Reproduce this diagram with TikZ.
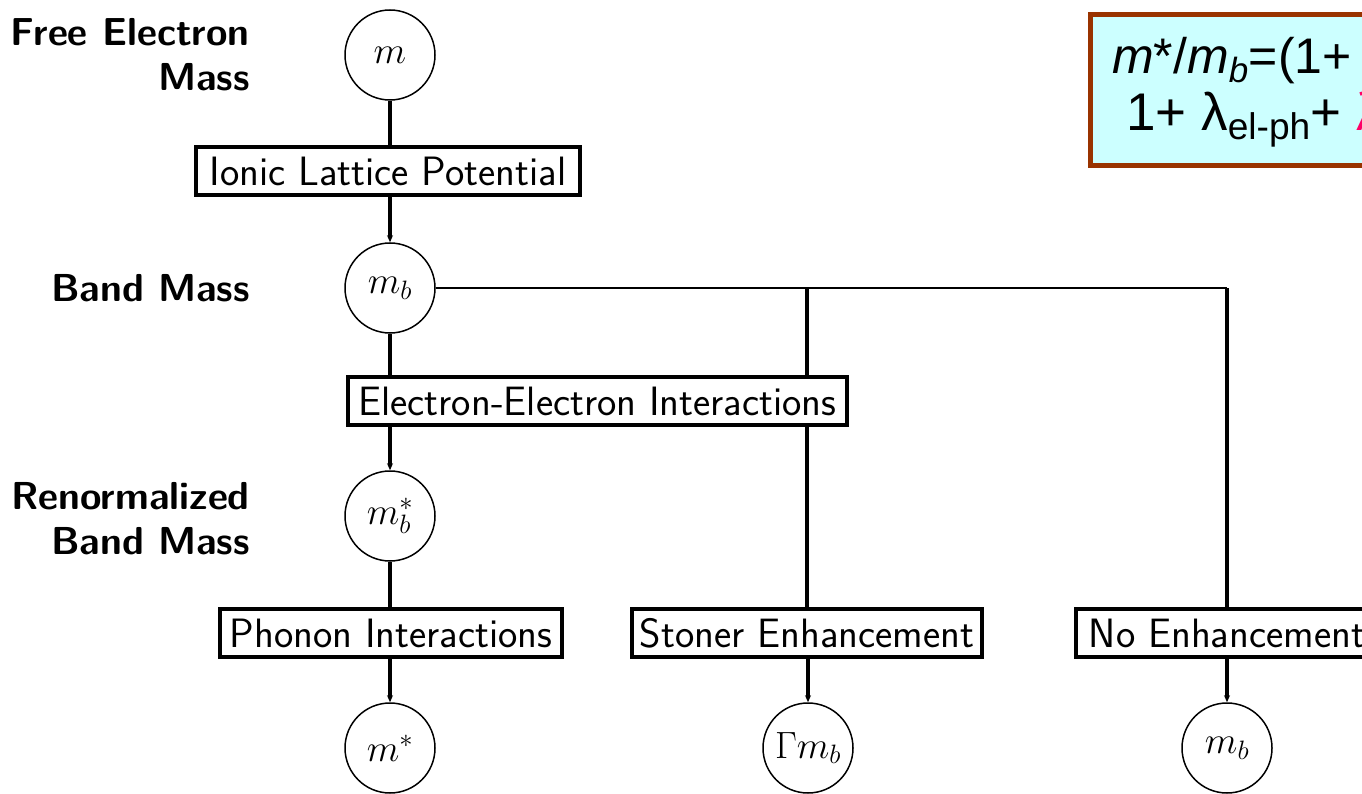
\RequirePackage{fix-cm}
\documentclass[tikz,border=0pt]{standalone}
\usepackage{fontspec}
\newfontfamily\arialf{Liberation Sans}
\usetikzlibrary{arrows.meta,backgrounds}
\definecolor{boxbrown}{HTML}{993300}
\definecolor{boxcyan}{HTML}{CCFFFF}
\definecolor{lampink}{HTML}{FF0066}
\begin{document}
\begin{tikzpicture}[x=1pt,y=-1pt,
  mass/.style={circle,draw,line width=1.5pt,minimum size=90pt,inner sep=0pt,font=\fontsize{38}{44}\selectfont,fill=white},
  proc/.style={rectangle,draw,line width=3.2pt,minimum height=48pt,inner sep=0pt,font=\sffamily\fontsize{41}{48}\selectfont,fill=white},
  lab/.style={anchor=east,align=right,font=\sffamily\bfseries\fontsize{39}{45}\selectfont,inner sep=0pt},
  conn/.style={line width=3.2pt},
  hconn/.style={line width=2.2pt},
  arr/.style={conn,-{Stealth[length=7pt,width=6pt]}},
  formbox/.style={rectangle,draw=boxbrown,line width=5pt,fill=boxcyan,inner sep=0pt},
  ftext/.style={anchor=base west,inner sep=0pt,font=\arialf\fontsize{50}{56}\selectfont}
]
\useasboundingbox (0,0) rectangle (1362,794);
\clip (0,0) rectangle (1362,794);
% mass nodes and process boxes
\node[mass] (m) at (390,55) {$m$};
\node[proc,minimum width=384pt] (ilp) at (388,171) {Ionic Lattice Potential};
\node[mass] (mb) at (390,288) {$m_b$};
\node[proc,minimum width=499pt] (ee) at (597.5,401) {Electron-Electron Interactions};
\node[mass] (mbs) at (390,516) {$m_b^*$};
\node[proc,minimum width=342pt] (ph) at (391,633) {Phonon Interactions};
\node[mass] (ms) at (390,748) {$m^*$};
\node[proc,minimum width=350pt] (st) at (807,633) {Stoner Enhancement};
\node[mass] (gmb) at (808,748) {$\Gamma m_b$};
\node[proc,minimum width=302pt] (ne) at (1227,633) {No Enhancement};
\node[mass] (mb2) at (1227,748) {$m_b$};
\coordinate (branch) at (mb.east -| st.north);
\coordinate (corner) at (mb.east -| ne.north);
% labels
\node[lab] (l1) at (250,55) {Free Electron\\Mass};
\node[lab] (l2) at (250,288) {Band Mass};
\node[lab] (l3) at (250,519) {Renormalized\\Band Mass};
% formula box
\node[formbox,anchor=north west,minimum width=440pt,minimum height=151pt] (fb) at (1088,12) {};
\node[ftext] (f1) at (1112,74) {\textit{m}*/\textit{m}\textsubscript{\textit{b}}=(1+};
\node[ftext,font=\arialf\fontsize{53}{58}\selectfont] (f2) at (1126,131) {1+ λ\textsubscript{el-ph}+ \textcolor{lampink}{λ}};
% connectors
\begin{scope}[on background layer]
\draw[conn] (m.south) -- (m.south |- ilp.north);
\draw[arr] (ilp.south -| mb) -- (mb.north);
\draw[conn] (mb.south) -- (mb.south |- ee.north);
\draw[arr] (ee.south -| mbs) -- (mbs.north);
\draw[hconn] (mb.east) -- (corner);
\draw[conn] (corner) -- (ne.north);
\draw[conn] (branch) -- (st.north);
\draw[conn] (mbs.south) -- (mbs.south |- ph.north);
\draw[arr] (ph.south -| ms) -- (ms.north);
\draw[arr] (st.south -| gmb) -- (gmb.north);
\draw[arr] (ne.south) -- (mb2.north);
\end{scope}
\end{tikzpicture}
\end{document}
